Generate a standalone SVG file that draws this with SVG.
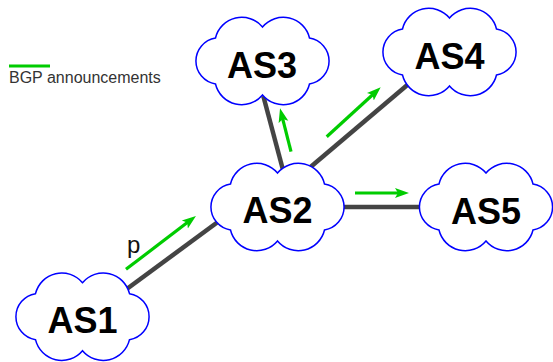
<svg xmlns="http://www.w3.org/2000/svg" xmlns:xlink="http://www.w3.org/1999/xlink" width="553" height="362" viewBox="0 0 553 362">
<style>
.cloud{fill:#fff;stroke:#0000ff;stroke-width:1.5;stroke-linejoin:miter}
.link{stroke:#444;stroke-width:4.5;fill:none}
.ann{stroke:#00cc00;stroke-width:3.2;fill:none}
.lbl{font-family:"Liberation Sans",Arial,sans-serif;font-weight:bold;font-size:36px;fill:#000;text-anchor:middle}
.txt{font-family:"Liberation Sans",Arial,sans-serif;fill:#333333}
</style>
<defs>
<path id="cloud" d="M -47,23 A 23.3,23.3 0 0 1 -47,-23 A 27,27 0 0 1 0,-34 A 27,27 0 0 1 47,-23 A 23.3,23.3 0 0 1 47,23 A 27,27 0 0 1 0,34 A 27,27 0 0 1 -47,23 Z"/>
<marker id="ah" markerUnits="userSpaceOnUse" markerWidth="16" markerHeight="12" viewBox="0 0 16 12" refX="6" refY="6" orient="auto">
<path d="M0,1 L14,6 L0,11 L3,6 Z" fill="#00cc00"/>
</marker>
</defs>
<g id="legend">
<line x1="9" y1="66" x2="50" y2="66" class="ann"/>
<text x="9" y="83" class="txt" style="font-size:16px">BGP announcements</text>
</g>
<g id="connectors">
<line class="link" x1="120" y1="294" x2="230" y2="213"/>
<line class="link" x1="263.3" y1="96" x2="283" y2="170"/>
<line class="link" x1="307" y1="170" x2="407.3" y2="85"/>
<line class="link" x1="340" y1="207" x2="425" y2="207"/>
<line class="ann" x1="126" y1="269.3" x2="189.6" y2="220.8" marker-end="url(#ah)"/>
<line class="ann" x1="291" y1="151.7" x2="282" y2="116.1" marker-end="url(#ah)"/>
<line class="ann" x1="326.7" y1="136.7" x2="374.8" y2="92.7" marker-end="url(#ah)"/>
<line class="ann" x1="355" y1="193" x2="401" y2="193" marker-end="url(#ah)"/>
<text x="127" y="252.5" class="txt" style="font-size:24px;fill:#111">p</text>
</g>
<g id="AS1">
<use xlink:href="#cloud" class="cloud" transform="translate(82.5,316.7)"/>
<text class="lbl" x="82.5" y="333">AS1</text>
</g>
<g id="AS2">
<use xlink:href="#cloud" class="cloud" transform="translate(277.5,207)"/>
<text class="lbl" x="277.5" y="222.5">AS2</text>
</g>
<g id="AS3">
<use xlink:href="#cloud" class="cloud" transform="translate(262.5,61)"/>
<text class="lbl" x="262" y="77.7">AS3</text>
</g>
<g id="AS4">
<use xlink:href="#cloud" class="cloud" transform="translate(449.5,52)"/>
<text class="lbl" x="449.5" y="69">AS4</text>
</g>
<g id="AS5">
<use xlink:href="#cloud" class="cloud" transform="translate(486,207)"/>
<text class="lbl" x="486" y="224">AS5</text>
</g>
</svg>
